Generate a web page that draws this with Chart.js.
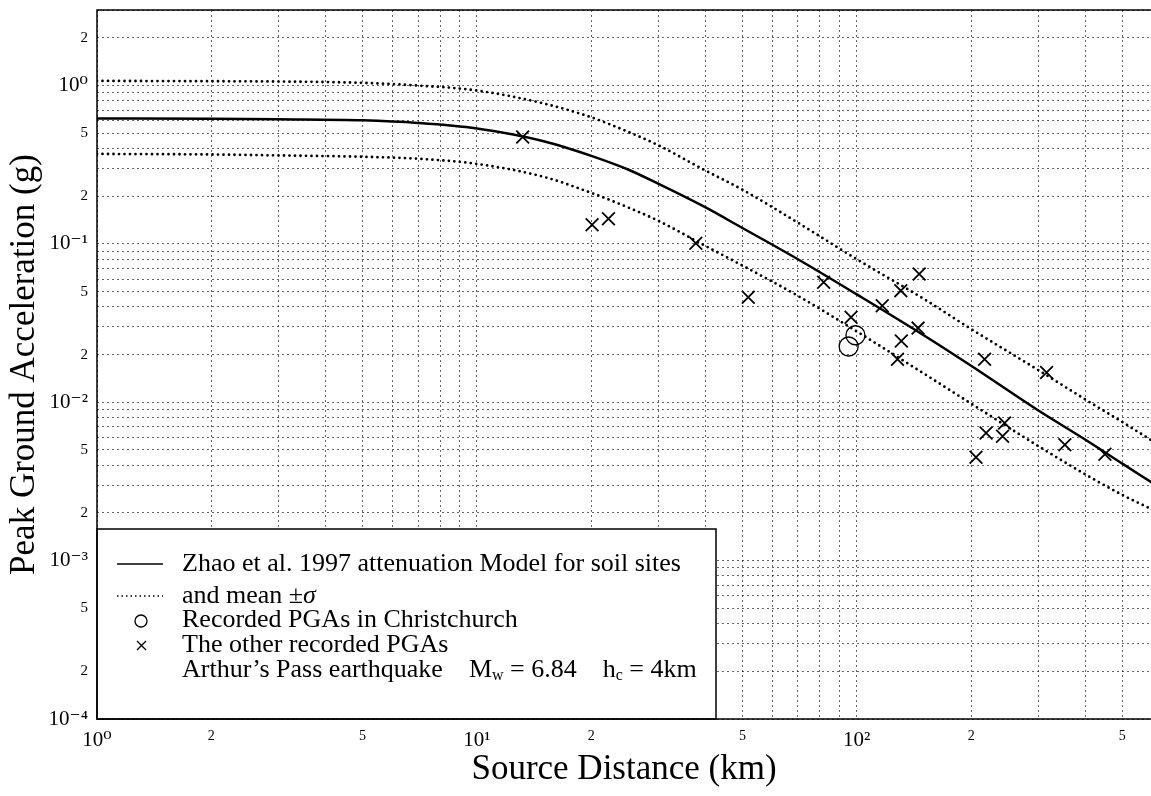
<!DOCTYPE html>
<html>
<head>
<meta charset="utf-8">
<script src="https://cdn.jsdelivr.net/npm/chart.js@4"></script>
<style>
  html, body { margin: 0; padding: 0; background: #fff; overflow: hidden; }
  #wrap { width: 1151px; height: 796px; position: relative; }
  #pgaChart { display: block; }
</style>
</head>
<body>
<div id="wrap"><canvas id="pgaChart"></canvas></div>
<script>
// model curves
const curveDist = [1, 2, 3, 5, 7, 10, 15, 20, 25, 30, 40, 50, 70, 100, 150, 200, 300, 400, 500, 600];
const meanPGA  = [0.62, 0.617, 0.612, 0.603, 0.58, 0.535, 0.445, 0.36, 0.295, 0.24, 0.17, 0.126, 0.080, 0.048, 0.0265, 0.017, 0.0089, 0.0058, 0.0041, 0.0031];
const upperPGA = [1.07, 1.065, 1.06, 1.04, 1.0, 0.93, 0.77, 0.63, 0.51, 0.42, 0.29, 0.22, 0.136, 0.080, 0.045, 0.029, 0.016, 0.0104, 0.0075, 0.0057];
const lowerPGA = [0.37, 0.367, 0.362, 0.355, 0.345, 0.32, 0.265, 0.21, 0.17, 0.14, 0.097, 0.073, 0.047, 0.028, 0.0152, 0.0098, 0.0053, 0.0035, 0.0026, 0.0021];

// recorded PGAs
const chchDist = [95.2, 99.2];
const chchPGA  = [0.0225, 0.0265];
const otherDist = [13.2, 20.1, 22.2, 37.7, 51.8, 81.8, 96.6, 116.7, 130.6, 131, 128, 145, 146, 206, 217, 219, 242, 245, 316, 353, 450];
const otherPGA  = [0.473, 0.132, 0.144, 0.101, 0.046, 0.0572, 0.0344, 0.0407, 0.0507, 0.0244, 0.0187, 0.0294, 0.0646, 0.0045, 0.0187, 0.0064, 0.0061, 0.0074, 0.0154, 0.0054, 0.0047];

// tick labels
const xLabelVals = [1, 2, 5, 10, 20, 50, 100, 200, 500];
const xLabelText = ['10⁰', '2', '5', '10¹', '2', '5', '10²', '2', '5'];
const yLabelVals = [2, 1, 0.5, 0.2, 0.1, 0.05, 0.02, 0.01, 0.005, 0.002, 0.001, 0.0005, 0.0002, 0.0001];
const yLabelText = ['2', '10⁰', '5', '2', '10⁻¹', '5', '2', '10⁻²', '5', '2', '10⁻³', '5', '2', '10⁻⁴'];

const SERIF = '"Liberation Serif", "DejaVu Serif", serif';
Chart.defaults.font.family = SERIF;
Chart.defaults.color = '#000';

function pts(xs, ys) {
    return xs.map((x, i) => ({x: x, y: ys[i]}));
}

function sameVal(a, b) {
    return Math.abs(a - b) / b < 1e-6;
}

function labelFor(vals, texts, v) {
    for (let i = 0; i < vals.length; i++) {
        if (sameVal(v, vals[i])) return texts[i];
    }
    return '';
}

function isDecade(v) {
    const l = Math.log10(v);
    return Math.abs(l - Math.round(l)) < 1e-6;
}

// grid lines at every 1..9 x 10^n
function logGridTicks(scale) {
    const ticks = [];
    const e0 = Math.floor(Math.log10(scale.min));
    const e1 = Math.ceil(Math.log10(scale.max));
    for (let e = e0; e <= e1; e++) {
        for (let s = 1; s <= 9; s++) {
            const v = parseFloat((s * Math.pow(10, e)).toPrecision(6));
            if (v >= scale.min * 0.999999 && v <= scale.max * 1.000001) ticks.push({value: v});
        }
    }
    scale.ticks = ticks;
}

// fixed axis sizes so the plot area lands where it is in the picture
function fitX(s) {
    s.height = 77;
    s.paddingLeft = 0; s.paddingRight = 0;
}
function fitY(s) {
    s.width = 97;
    s.paddingTop = 0; s.paddingBottom = 0;
}

// legend box in the lower left corner + frame round the plot
const legendBox = {
    id: 'legendBox',
    afterDatasetsDraw(chart) {
        const ctx = chart.ctx;
        const a = chart.chartArea;
        const left = a.left, top = 529, right = 716, bottom = a.bottom;
        ctx.save();
        ctx.fillStyle = '#fff';
        ctx.fillRect(left, top, right - left, bottom - top);
        ctx.strokeStyle = '#000';
        ctx.lineWidth = 1.5;
        ctx.strokeRect(left, top, right - left, bottom - top);

        const tx = 182;
        ctx.font = '26px ' + SERIF;
        ctx.fillStyle = '#000';
        ctx.textBaseline = 'middle';
        ctx.textAlign = 'left';

        // solid line
        ctx.lineWidth = 1.3;
        ctx.beginPath(); ctx.moveTo(117, 564); ctx.lineTo(163, 564); ctx.stroke();
        ctx.fillText('Zhao et al. 1997 attenuation Model for soil sites', tx, 564);

        // dotted line
        ctx.setLineDash([1.5, 3]);
        ctx.beginPath(); ctx.moveTo(117, 596); ctx.lineTo(163, 596); ctx.stroke();
        ctx.setLineDash([]);
        ctx.fillText('and mean ±', tx, 596);
        let w = ctx.measureText('and mean ±').width;
        ctx.font = 'italic 26px ' + SERIF;
        ctx.fillText('σ', tx + w, 596);
        ctx.font = '26px ' + SERIF;

        // circle
        ctx.lineWidth = 1.3;
        ctx.beginPath(); ctx.arc(141, 621, 6, 0, Math.PI * 2); ctx.stroke();
        ctx.fillText('Recorded PGAs in Christchurch', tx, 620);

        // cross
        ctx.beginPath();
        ctx.moveTo(137, 641); ctx.lineTo(146, 650);
        ctx.moveTo(146, 641); ctx.lineTo(137, 650);
        ctx.stroke();
        ctx.fillText('The other recorded PGAs', tx, 645);

        // quake info with subscripts
        let x = tx;
        const y = 670;
        const part = (txt, size, dy) => {
            ctx.font = size + 'px ' + SERIF;
            ctx.fillText(txt, x, y + dy);
            x += ctx.measureText(txt).width;
        };
        part('Arthur’s Pass earthquake    M', 26, 0);
        part('w', 16, 6);
        part(' = 6.84    h', 26, 0);
        part('c', 16, 6);
        part(' = 4km', 26, 0);
        ctx.restore();
    },
    afterDraw(chart) {
        // frame: top, left, bottom (right edge runs off the picture)
        const ctx = chart.ctx;
        const a = chart.chartArea;
        ctx.save();
        ctx.strokeStyle = '#000';
        ctx.lineWidth = 1.5;
        ctx.beginPath();
        ctx.moveTo(a.right, a.top);
        ctx.lineTo(a.left, a.top);
        ctx.lineTo(a.left, a.bottom);
        ctx.lineTo(a.right, a.bottom);
        ctx.stroke();
        ctx.restore();
    }
};

const ctx = document.getElementById('pgaChart').getContext('2d');

const pgaChart = new Chart(ctx, {
    type: 'scatter',
    data: {
        datasets: [
            {
                label: 'Zhao et al. 1997',
                data: pts(curveDist, meanPGA),
                showLine: true,
                borderColor: '#000',
                borderWidth: 2.5,
                pointRadius: 0,
                cubicInterpolationMode: 'monotone'
            },
            {
                label: 'mean + sigma',
                data: pts(curveDist, upperPGA),
                showLine: true,
                borderColor: '#000',
                borderWidth: 2.8,
                borderDash: [0, 5.5],
                borderCapStyle: 'round',
                pointRadius: 0,
                cubicInterpolationMode: 'monotone'
            },
            {
                label: 'mean - sigma',
                data: pts(curveDist, lowerPGA),
                showLine: true,
                borderColor: '#000',
                borderWidth: 2.8,
                borderDash: [0, 5.5],
                borderCapStyle: 'round',
                pointRadius: 0,
                cubicInterpolationMode: 'monotone'
            },
            {
                label: 'Recorded PGAs in Christchurch',
                data: pts(chchDist, chchPGA),
                pointStyle: 'circle',
                pointRadius: 9.5,
                borderColor: '#000',
                borderWidth: 1.3,
                backgroundColor: 'rgba(0,0,0,0)'
            },
            {
                label: 'The other recorded PGAs',
                data: pts(otherDist, otherPGA),
                pointStyle: 'crossRot',
                pointRadius: 9,
                borderColor: '#000',
                borderWidth: 1.8
            }
        ]
    },
    options: {
        responsive: true,
        maintainAspectRatio: false,
        animation: false,
        layout: { autoPadding: false, padding: { top: 10, right: 0, left: 0, bottom: 0 } },
        plugins: {
            legend: { display: false },
            tooltip: { enabled: false }
        },
        scales: {
            x: {
                type: 'logarithmic',
                min: 1,
                max: 595,
                afterBuildTicks: logGridTicks,
                afterFit: fitX,
                grid: { color: 'rgba(0,0,0,0.6)', lineWidth: 1, drawTicks: false },
                border: { display: false, dash: [2, 3] },
                ticks: {
                    autoSkip: false,
                    maxRotation: 0,
                    padding: 9,
                    font: (c) => ({ size: c.tick && isDecade(c.tick.value) ? 21 : 14, family: SERIF }),
                    callback: (v) => labelFor(xLabelVals, xLabelText, v)
                },
                title: {
                    display: true,
                    text: 'Source Distance (km)',
                    font: { size: 35, family: SERIF },
                    padding: { top: 0, bottom: 5 }
                }
            },
            y: {
                type: 'logarithmic',
                min: 0.0001,
                max: 3,
                afterBuildTicks: logGridTicks,
                afterFit: fitY,
                grid: { color: 'rgba(0,0,0,0.6)', lineWidth: 1, drawTicks: false },
                border: { display: false, dash: [2, 3] },
                ticks: {
                    autoSkip: false,
                    padding: 9,
                    font: (c) => ({ size: c.tick && isDecade(c.tick.value) ? 21 : 15, family: SERIF }),
                    callback: (v) => labelFor(yLabelVals, yLabelText, v)
                },
                title: {
                    display: true,
                    text: 'Peak Ground Acceleration (g)',
                    font: { size: 35, family: SERIF },
                    padding: { top: 4, bottom: 0 }
                }
            }
        }
    },
    plugins: [legendBox]
});
</script>
</body>
</html>
